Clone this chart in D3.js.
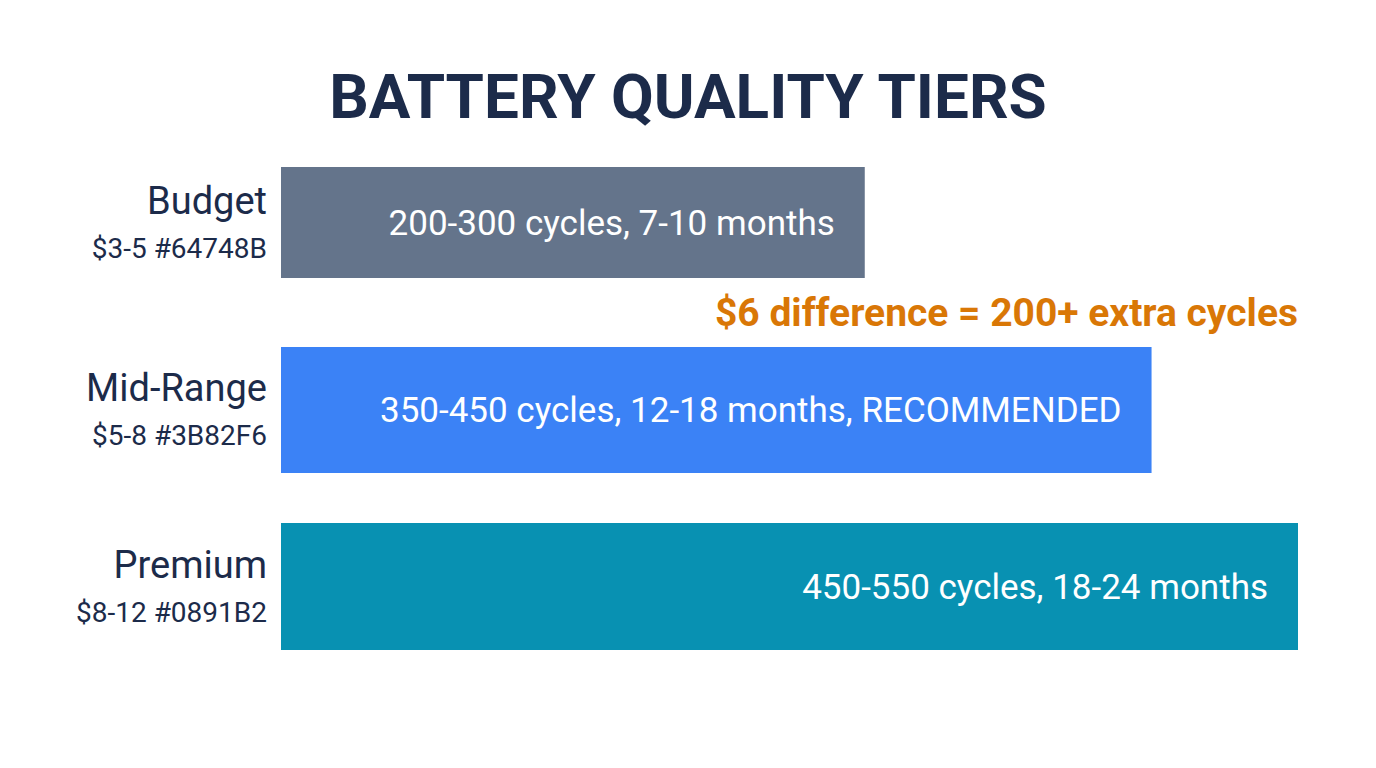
<!DOCTYPE html>
<html><head><meta charset="utf-8">
<script src="https://cdn.jsdelivr.net/npm/d3@7"></script>
<style>body{margin:0;background:#fff}svg{display:block}text{font-family:Roboto,"Noto Sans",sans-serif}</style>
</head><body>
<svg id="chart" width="1376" height="768"></svg>
<script>
// data
var tiers = ["Budget", "Mid-Range", "Premium"];
var prices = ["$3-5 #64748B", "$5-8 #3B82F6", "$8-12 #0891B2"];
var scores = [57.4, 85.6, 100];
var notes = ["200-300 cycles, 7-10 months", "350-450 cycles, 12-18 months, RECOMMENDED", "450-550 cycles, 18-24 months"];
var colors = ["#64748B", "#3B82F6", "#0891B2"];
var bandTop = [167, 347, 523], bandH = [111, 126, 127];

var svg = d3.select("#chart");
var x = d3.scaleLinear().domain([0, 100]).range([281, 1298]);

svg.append("text").attr("x", 688).attr("y", 118).attr("text-anchor", "middle")
  .attr("font-size", 62).attr("font-weight", 700).attr("fill", "#1c2b4a")
  .text("BATTERY QUALITY TIERS");

var g = svg.selectAll("g.tier").data(tiers).enter().append("g").attr("class", "tier");

g.append("rect").attr("x", x(0)).attr("y", function(d, i) { return bandTop[i]; })
  .attr("width", function(d, i) { return x(scores[i]) - x(0); })
  .attr("height", function(d, i) { return bandH[i]; })
  .attr("fill", function(d, i) { return colors[i]; });

g.append("text").attr("x", function(d, i) { return x(scores[i]) - 30; })
  .attr("y", function(d, i) { return bandTop[i] + bandH[i] / 2 + 12; })
  .attr("text-anchor", "end").attr("font-size", 35).attr("fill", "#fff")
  .text(function(d, i) { return notes[i]; });

g.append("text").attr("x", 267).attr("y", function(d, i) { return bandTop[i] + bandH[i] / 2 - 9; })
  .attr("text-anchor", "end").attr("font-size", 38).attr("fill", "#1c2b4a")
  .text(function(d) { return d; });

g.append("text").attr("x", 267).attr("y", function(d, i) { return bandTop[i] + bandH[i] / 2 + 35; })
  .attr("text-anchor", "end").attr("font-size", 28).attr("fill", "#1c2b4a")
  .text(function(d, i) { return prices[i]; });

svg.append("text").attr("x", x(100)).attr("y", 326).attr("text-anchor", "end")
  .attr("font-size", 39).attr("font-weight", 700).attr("fill", "#D97706")
  .text("$6 difference = 200+ extra cycles");
</script>
</body></html>
